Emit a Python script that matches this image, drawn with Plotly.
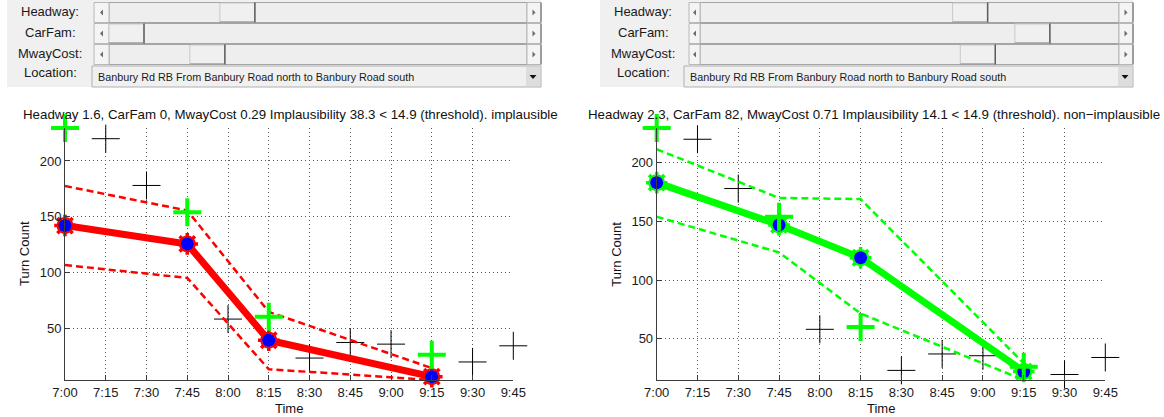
import plotly.graph_objects as go

W, H = 1164, 417

# ---------------------------------------------------------------- data
times = ["7:00", "7:15", "7:30", "7:45", "8:00", "8:15",
         "8:30", "8:45", "9:00", "9:15", "9:30", "9:45"]

# observed counts (black crosses)
obs_times = ["7:15", "7:30", "8:00", "8:30", "8:45", "9:00", "9:30", "9:45"]
obs_counts = [220, 178, 58, 23, 37, 35.5, 19.5, 34]

# calibration counts (green crosses)
cal_times = ["7:00", "7:45", "8:15", "9:15"]
cal_counts = [229.6, 154, 60, 26]

# emulator output times
model_times = ["7:00", "7:45", "8:15", "9:15"]

# run A
a_headway, a_carfam, a_mwaycost = 1.6, 0, 0.29
a_implaus = 38.3
a_verdict = "implausible"
a_mean = [142, 125.5, 39, 6.3]
a_upper = [177.5, 155.5, 64.5, 14]
a_lower = [106.5, 95, 13, 3.3]

# run B
b_headway, b_carfam, b_mwaycost = 2.3, 82, 0.71
b_implaus = 14.1
b_verdict = "non\u2212implausible"
b_mean = [183, 147, 119, 22]
b_upper = [211.5, 170, 169, 29]
b_lower = [154, 123.5, 71.5, 14.8]

threshold = 14.9
location = "Banbury Rd RB From Banbury Road north to Banbury Road south"

# slider limits of the input controls
HEADWAY_LIM = (1.05, 2.95)
CARFAM_LIM = (0, 100)
MWAYCOST_LIM = (0.1, 1.0)

FONT = "Liberation Sans, Arial, Helvetica, sans-serif"


def px(x):
    return x / W


def py(y):
    return 1 - y / H


fig = go.Figure()
shapes = []
annotations = []


# ---------------------------------------------------------------- controls
def rect(x0, y0, x1, y1, fill, line=None, lw=1):
    shapes.append(dict(type="rect", xref="paper", yref="paper",
                       x0=px(x0), x1=px(x1), y0=py(y1), y1=py(y0),
                       fillcolor=fill,
                       line=dict(color=line or fill, width=lw if line else 0),
                       layer="above"))


def seg(x0, y0, x1, y1, color, lw=1):
    shapes.append(dict(type="line", xref="paper", yref="paper",
                       x0=px(x0), x1=px(x1), y0=py(y0), y1=py(y1),
                       line=dict(color=color, width=lw), layer="above"))


def tri(pts, color):
    path = "M " + " L ".join(f"{px(x)},{py(y)}" for x, y in pts) + " Z"
    shapes.append(dict(type="path", xref="paper", yref="paper", path=path,
                       fillcolor=color, line=dict(width=0), layer="above"))


def label(x, y, text, size=13, anchor="center"):
    annotations.append(dict(xref="paper", yref="paper", x=px(x), y=py(y),
                            text=text, showarrow=False, xanchor=anchor,
                            yanchor="middle",
                            font=dict(family=FONT, size=size, color="#1a1a1a")))


def control_panel(label_cx, bg_x0, sl_x0, sl_x1, lbw, rbw, pop_x0, values):
    rect(bg_x0, 0, sl_x1, 87, "#f0f0f0")
    rows = [(2.5, 22.5), (23.5, 43.5), (44.5, 64.5)]
    names = ["Headway:", "CarFam:", "MwayCost:"]
    lims = [HEADWAY_LIM, CARFAM_LIM, MWAYCOST_LIM]
    tx0, tx1 = sl_x0 + lbw, sl_x1 - rbw
    thumb_w = 35
    for (y0, y1), name, lim, val in zip(rows, names, lims, values):
        cy = (y0 + y1) / 2
        label(label_cx, cy - 1, name)
        # trough
        rect(tx0, y0, tx1, y1, "#eeeeee", "#a4a4a4")
        # arrow buttons
        rect(sl_x0, y0, tx0, y1, "#f4f4f4", "#b8b8b8")
        rect(tx1, y0, sl_x1, y1, "#f4f4f4", "#b8b8b8")
        seg(sl_x1, y0, sl_x1, y1, "#8a8a8a", 1.5)
        bl = (sl_x0 + tx0) / 2
        br = (tx1 + sl_x1) / 2
        tri([(bl - 1.5, cy), (bl + 1.5, cy - 3), (bl + 1.5, cy + 3)], "#6a6a6a")
        tri([(br + 1.5, cy), (br - 1.5, cy - 3), (br - 1.5, cy + 3)], "#6a6a6a")
        # thumb
        frac = (val - lim[0]) / (lim[1] - lim[0])
        th0 = tx0 + frac * (tx1 - tx0 - thumb_w)
        rect(th0, y0 + 0.5, th0 + thumb_w, y1 - 0.5, "#f0f0f0", "#c8c8c8")
        seg(th0 + thumb_w, y0, th0 + thumb_w, y1, "#5c5c5c", 1.5)
        seg(th0, y1 - 0.5, th0 + thumb_w, y1 - 0.5, "#8c8c8c", 1)
    # location popup
    label(label_cx, 72, "Location:")
    rect(pop_x0, 66, sl_x1, 87, "#f0f0f0", "#b0b0b0")
    rect(sl_x1 - 15, 67, sl_x1 - 1, 86, "#dddddd")
    dc = sl_x1 - 8
    tri([(dc - 3.5, 75), (dc + 3.5, 75), (dc, 79)], "#111111")
    label(pop_x0 + 4, 77.5, location, size=10.8, anchor="left")


control_panel(50, 7, 94, 541, 15, 14, 92, [a_headway, a_carfam, a_mwaycost])
control_panel(643, 600, 689, 1133, 11, 14, 684, [b_headway, b_carfam, b_mwaycost])


# ---------------------------------------------------------------- plots
def add_panel(n, mean, upper, lower, color, headway, carfam, mwaycost,
              implaus, verdict, x0, x1, title_right=None):
    xa = "x" if n == 1 else f"x{n}"
    ya = "y" if n == 1 else f"y{n}"
    common = dict(xaxis=xa, yaxis=ya, cliponaxis=False, showlegend=False,
                  hoverinfo="skip")
    fig.add_trace(go.Scatter(x=obs_times, y=obs_counts, mode="markers",
                             marker=dict(symbol="cross-thin", size=20,
                                         color="black",
                                         line=dict(color="black", width=1)),
                             **common))
    for band in (upper, lower):
        fig.add_trace(go.Scatter(x=model_times, y=band, mode="lines",
                                 line=dict(color=color, width=2.5,
                                           dash="7px,4px"), **common))
    fig.add_trace(go.Scatter(x=model_times, y=mean, mode="lines",
                             line=dict(color=color, width=7), **common))
    fig.add_trace(go.Scatter(x=model_times, y=mean, mode="markers",
                             marker=dict(symbol="circle-open", size=15,
                                         color=color,
                                         line=dict(color=color, width=2)),
                             **common))
    fig.add_trace(go.Scatter(x=model_times, y=mean, mode="markers",
                             marker=dict(symbol="asterisk-open", size=18,
                                         color=color,
                                         line=dict(color=color, width=3.5)),
                             **common))
    fig.add_trace(go.Scatter(x=model_times, y=mean, mode="markers",
                             marker=dict(symbol="circle", size=13,
                                         color="#0000ff", line=dict(width=0)),
                             **common))
    fig.add_trace(go.Scatter(x=cal_times, y=cal_counts, mode="markers",
                             marker=dict(symbol="cross-thin", size=20,
                                         color="#00ff00",
                                         line=dict(color="#00ff00", width=4)),
                             **common))

    all_y = obs_counts + cal_counts + mean + upper + lower
    y_top, y_bot = 128, 380
    axis_style = dict(showline=True, linecolor="#3c3c3c", linewidth=1,
                      ticks="inside", ticklen=5, tickcolor="#3c3c3c",
                      showgrid=True, gridcolor="#5a5a5a", gridwidth=1,
                      griddash="1px,3px", zeroline=False, automargin=False,
                      tickfont=dict(family=FONT, size=13, color="#1a1a1a"),
                      fixedrange=True)
    key = "" if n == 1 else str(n)
    fig.update_layout(**{
        f"xaxis{key}": dict(axis_style, type="category", categoryarray=times,
                            categoryorder="array", range=[0, len(times) - 1],
                            domain=[px(x0), px(x1)], anchor=ya,
                            tickvals=times, ticktext=times),
        f"yaxis{key}": dict(axis_style, range=[min(all_y), max(all_y)],
                            tickvals=[50, 100, 150, 200],
                            domain=[py(y_bot), py(y_top)], anchor=xa),
    })
    cx = (x0 + x1) / 2
    title = (f"Headway {headway}, CarFam {carfam}, MwayCost {mwaycost} "
             f"Implausibility {implaus} < {threshold} (threshold). {verdict}")
    if title_right is None:
        tx, tanchor = px(cx + 1), "center"
    else:
        tx, tanchor = px(title_right), "right"
    annotations.append(dict(xref="paper", yref="paper", x=tx, y=py(114),
                            text=title, showarrow=False, xanchor=tanchor,
                            yanchor="middle",
                            font=dict(family=FONT, size=13.3, color="#111111")))
    annotations.append(dict(xref="paper", yref="paper", x=px(cx), y=py(408),
                            text="Time", showarrow=False, xanchor="center",
                            yanchor="middle",
                            font=dict(family=FONT, size=13, color="#111111")))
    annotations.append(dict(xref="paper", yref="paper", x=px(x0 - 41), y=py(254),
                            text="Turn Count", showarrow=False, textangle=-90,
                            xanchor="center", yanchor="middle",
                            font=dict(family=FONT, size=13, color="#111111")))


add_panel(1, a_mean, a_upper, a_lower, "#ff0000", a_headway, a_carfam,
          a_mwaycost, a_implaus, a_verdict, 65, 513.3)
add_panel(2, b_mean, b_upper, b_lower, "#00ff00", b_headway, b_carfam,
          b_mwaycost, b_implaus, b_verdict, 656.7, 1105.3, title_right=1162)

fig.update_layout(width=W, height=H, margin=dict(l=0, r=0, t=0, b=0),
                  paper_bgcolor="white", plot_bgcolor="white",
                  shapes=shapes, annotations=annotations)

fig.write_html("out.html", config={"displayModeBar": False})
